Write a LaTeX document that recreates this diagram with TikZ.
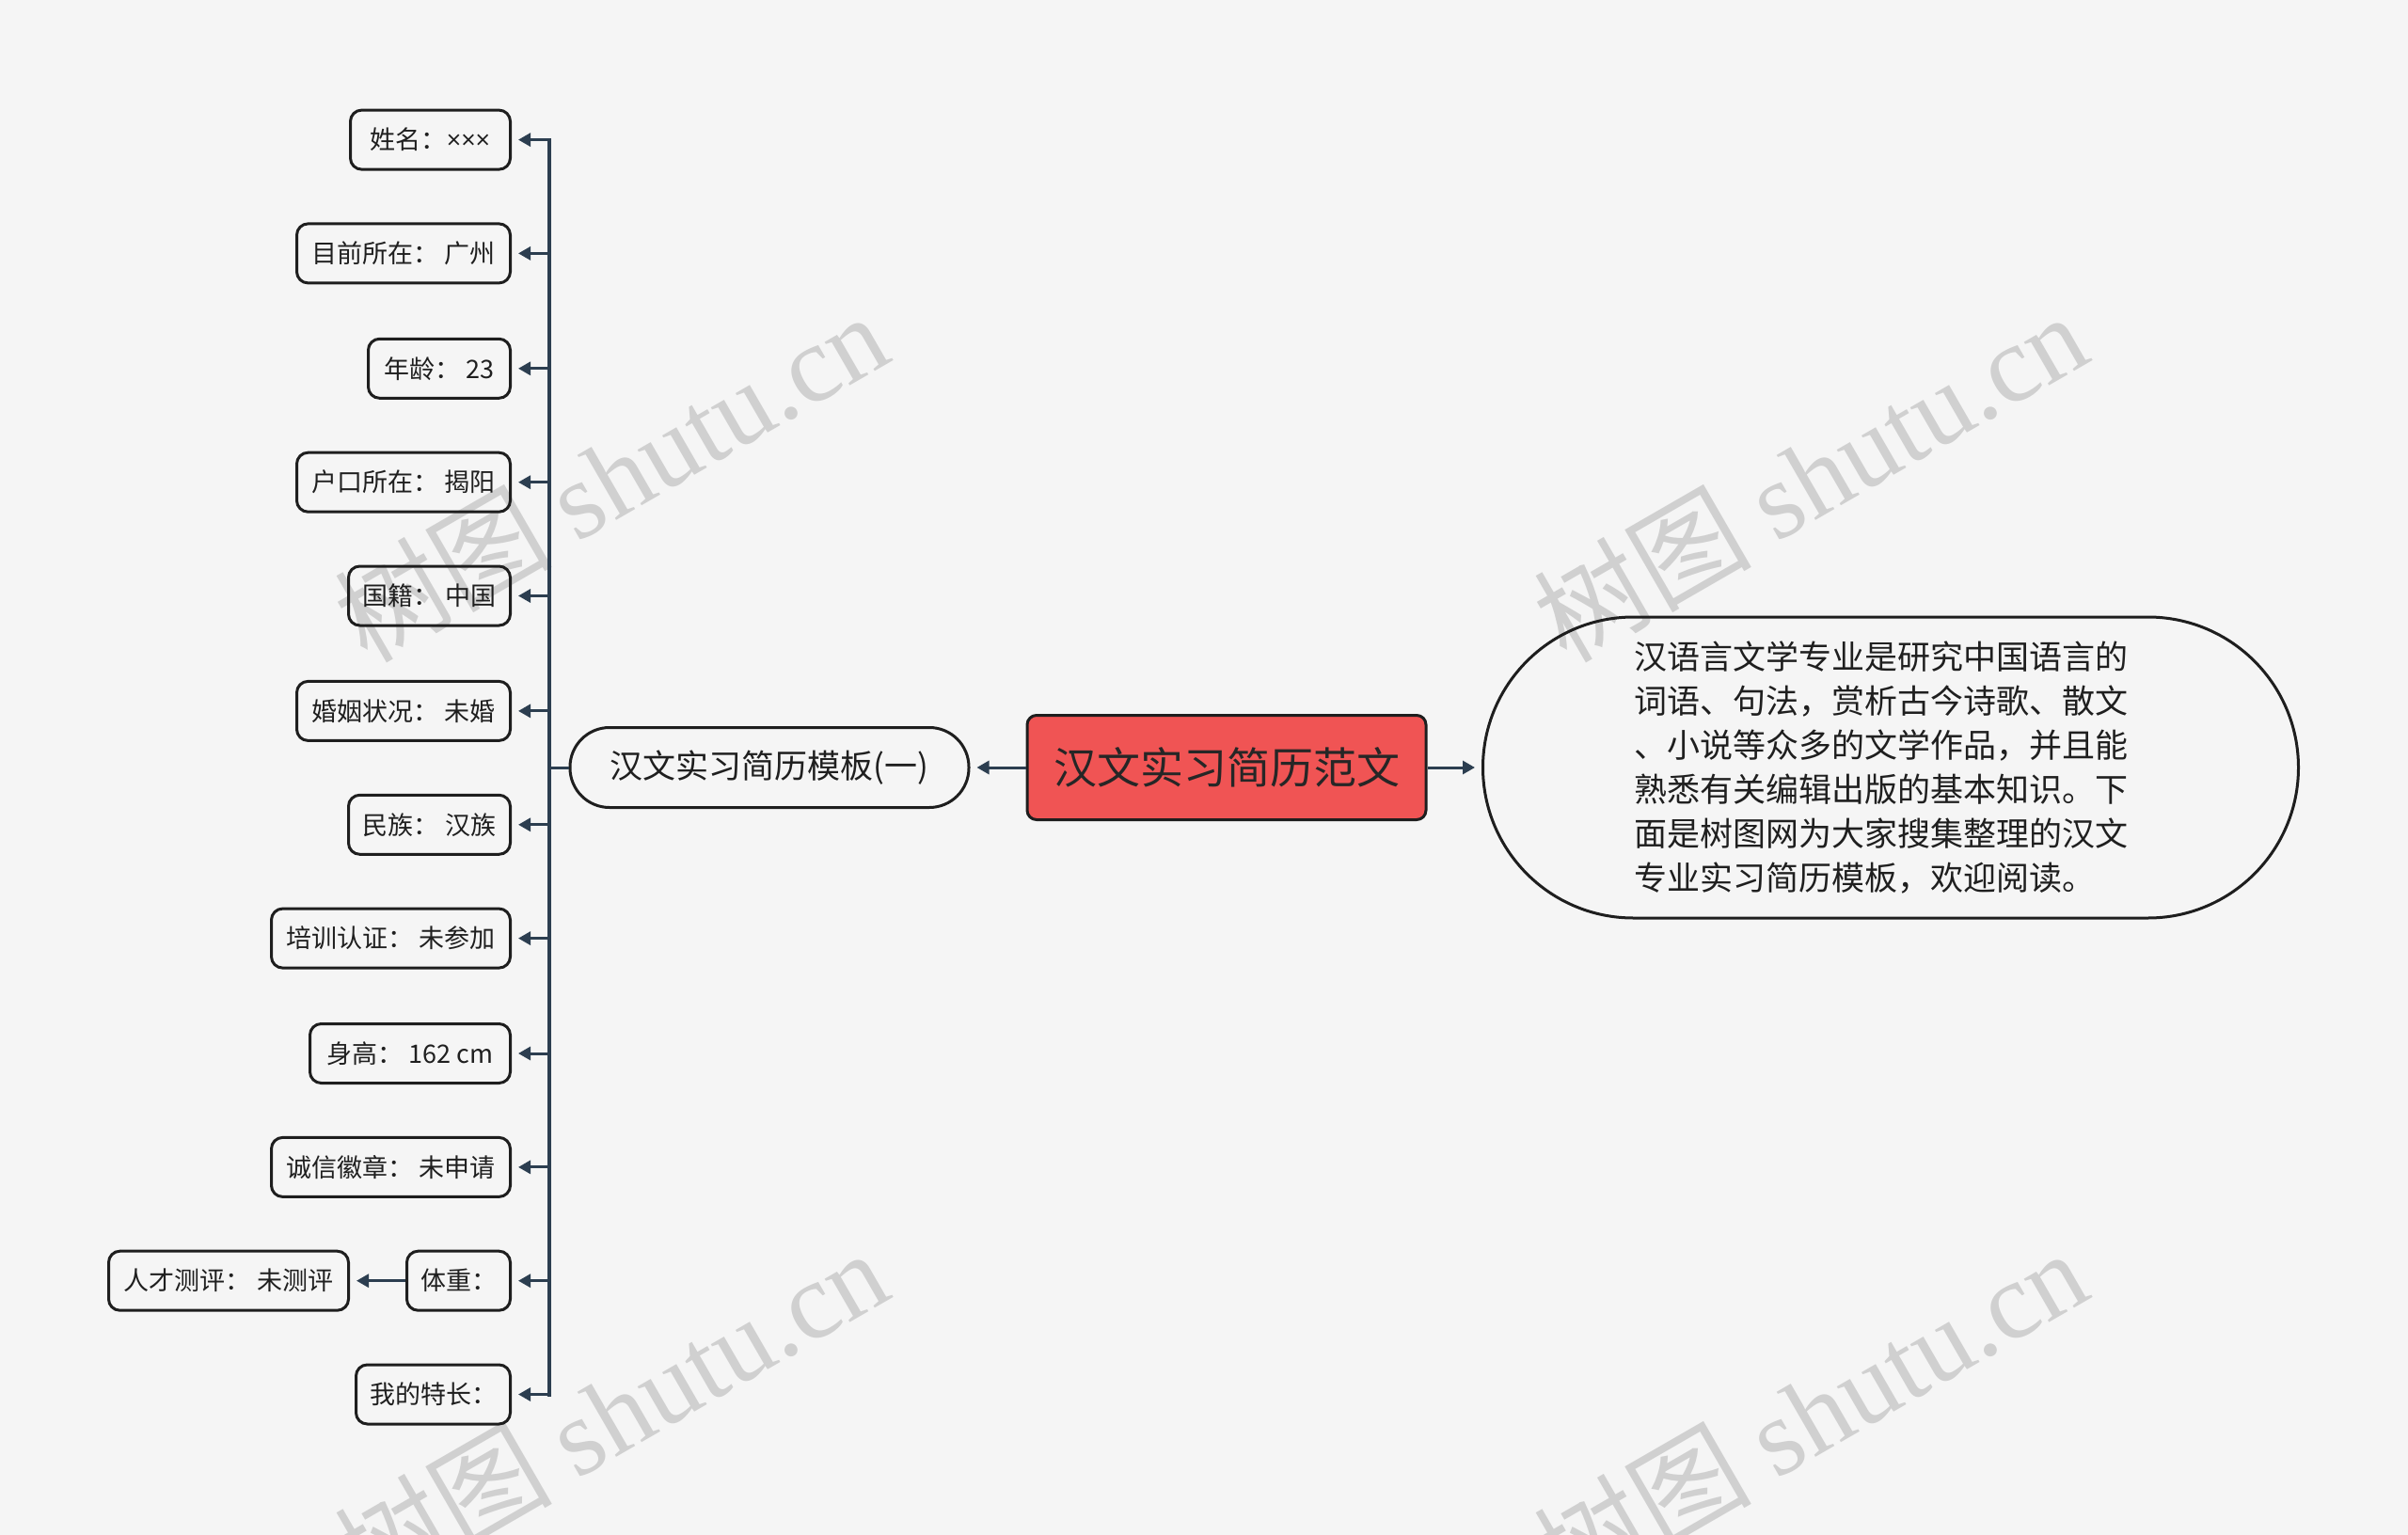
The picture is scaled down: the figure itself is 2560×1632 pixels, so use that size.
\documentclass[tikz,border=0pt]{standalone}
\usepackage{fontspec}
\setmainfont{Noto Sans CJK SC}
\newfontfamily\wmlatin{Liberation Serif}
\newfontfamily\latinsans{Open Sans}
\usetikzlibrary{arrows.meta}
\definecolor{bgc}{HTML}{F5F5F5}
\definecolor{edgec}{HTML}{2C3E50}
\definecolor{rootred}{HTML}{F05454}
\definecolor{bordc}{HTML}{1E1E1E}
\definecolor{wmc}{HTML}{D0D0D0}
\begin{document}
\begin{tikzpicture}[x=0.5pt,y=-0.5pt,
  leaf/.style={draw=bordc, line width=1.5pt, rounded corners=6pt, anchor=east,
    minimum height=31.5pt, inner xsep=7pt, inner ysep=0pt,
    font=\fontsize{13.5}{16}\selectfont, text=black!88},
  conn/.style={draw=edgec, line width=1.5pt},
  trunkline/.style={draw=edgec, line width=2pt, line cap=rect},
  arr/.style={conn, -{Triangle[length=6.5pt,width=7pt]}, shorten >=3.5pt},
  wm/.style={text=wmc, font=\fontsize{58}{66}\selectfont, rotate=30, inner sep=0pt},
]
\useasboundingbox[fill=bgc] (0,0) rectangle (2560,1632);

% watermarks
\node[wm] (wm1) at (649,506) {树图 {\wmlatin shutu.cn}};
\node[wm] (wm2) at (1924,506) {树图 {\wmlatin shutu.cn}};
\node[wm] (wm3) at (649,1502) {树图 {\wmlatin shutu.cn}};
\node[wm] (wm4) at (1924,1502) {树图 {\wmlatin shutu.cn}};

% main nodes
\node[draw=bordc, line width=1.5pt, fill=rootred, rounded corners=5pt,
  minimum width=212pt, minimum height=55.5pt, inner sep=0pt,
  font=\fontsize{23}{28}\selectfont, text=black!85] (root) at (1304,816) {汉文实习简历范文};
\node[draw=bordc, line width=1.5pt, rounded corners=21pt,
  minimum width=212pt, minimum height=42.5pt, inner sep=0pt,
  font=\fontsize{17.5}{21}\selectfont, text=black!88] (sub) at (818,816) {汉文实习简历模板(一)};
\node[draw=bordc, line width=1.5pt, rounded corners=80pt,
  minimum width=433.5pt, minimum height=160pt, inner sep=0pt, align=left,
  font=\fontsize{17.5}{23.5}\selectfont, text=black!88] (desc) at (2010,816)
  {汉语言文学专业是研究中国语言的\hspace*{10pt}\\词语、句法，赏析古今诗歌、散文\hspace*{10pt}\\、小说等众多的文学作品，并且能\hspace*{10pt}\\熟悉有关编辑出版的基本知识。下\hspace*{10pt}\\面是树图网为大家搜集整理的汉文\hspace*{10pt}\\专业实习简历模板，欢迎阅读。};

% leaves
\node[leaf, minimum width=85pt]   (n1)  at (544,148.6)  {姓名：{\latinsans ×××}};
\node[leaf, minimum width=113.5pt] (n2)  at (544,269.4)  {目前所在： 广州};
\node[leaf, minimum width=75.5pt] (n3)  at (544,391.8)  {年龄： 23};
\node[leaf, minimum width=113.5pt] (n4)  at (544,512.7)  {户口所在： 揭阳};
\node[leaf, minimum width=86pt]   (n5)  at (544,633.5)  {国籍： 中国};
\node[leaf, minimum width=113.5pt] (n6)  at (544,755.9)  {婚姻状况： 未婚};
\node[leaf, minimum width=86pt]   (n7)  at (544,876.8)  {民族： 汉族};
\node[leaf, minimum width=127pt]  (n8)  at (544,997.6)  {培训认证： 未参加};
\node[leaf, minimum width=106.5pt] (n9)  at (544,1120)   {身高： 162 cm};
\node[leaf, minimum width=127pt]  (n10) at (544,1240.9) {诚信徽章： 未申请};
\node[leaf, minimum width=55pt]   (n11) at (544,1361.7) {体重：};
\node[leaf, minimum width=82pt]   (n12) at (544,1482.5) {我的特长：};
\node[leaf, minimum width=127.5pt] (n13) at (372,1361.7) {人才测评： 未测评};

% trunk coordinates
\coordinate (t1)  at (584,148.6);
\coordinate (t2)  at (584,269.4);
\coordinate (t3)  at (584,391.8);
\coordinate (t4)  at (584,512.7);
\coordinate (t5)  at (584,633.5);
\coordinate (t6)  at (584,755.9);
\coordinate (t7)  at (584,876.8);
\coordinate (t8)  at (584,997.6);
\coordinate (t9)  at (584,1120);
\coordinate (t10) at (584,1240.9);
\coordinate (t11) at (584,1361.7);
\coordinate (t12) at (584,1482.5);
\coordinate (tm)  at (584,816);

\draw[trunkline] (t1) -- (t12);
\draw[conn] (sub.west) -- (tm);
\draw[arr] (root.west) -- (sub.east);
\draw[arr] (root.east) -- (desc.west);
\foreach \i in {1,...,12} { \draw[arr] (t\i) -- (n\i.east); }
\draw[arr] (n11.west) -- (n13.east);
\end{tikzpicture}
\end{document}
